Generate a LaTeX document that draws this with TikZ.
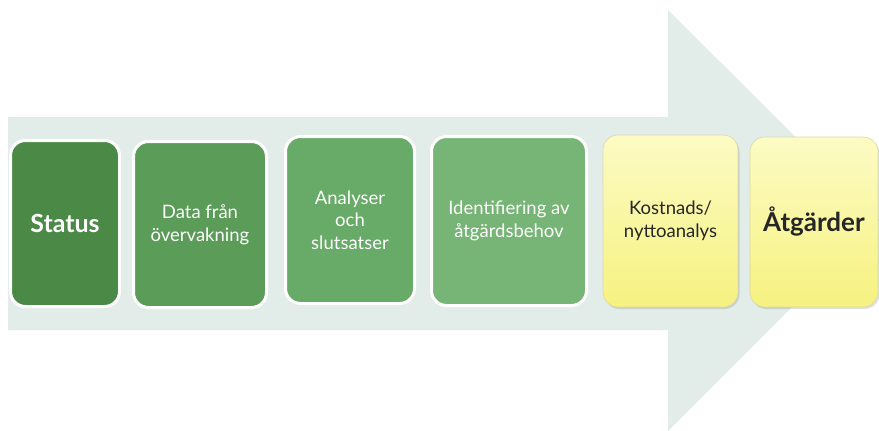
\documentclass[tikz,border=0pt]{standalone}
\usepackage{fontspec}
\setmainfont{Lato}
\usepackage{tikz}
\usetikzlibrary{shadows}

\definecolor{arrowbg}{RGB}{226,236,233}
\definecolor{greenA}{RGB}{74,137,70}
\definecolor{greenB}{RGB}{90,156,88}
\definecolor{greenC}{RGB}{104,170,104}
\definecolor{greenD}{RGB}{118,181,117}
\definecolor{yellowtop}{RGB}{252,251,196}
\definecolor{yellowbot}{RGB}{246,242,128}

\begin{document}
\begin{tikzpicture}[x=1pt, y=-1pt,
    stage/.style={rectangle, rounded corners=15pt, draw=white, line width=3pt, align=center,
                  text=white, font=\fontsize{18.5}{22.5}\selectfont},
    todo/.style={rectangle, rounded corners=15pt, draw=yellowbot!80!black!60, line width=0.6pt,
                 top color=yellowtop, bottom color=yellowbot, align=center, text=black!85,
                 font=\fontsize{18.5}{22.5}\selectfont,
                 drop shadow={shadow xshift=1.5pt, shadow yshift=-2pt, opacity=0.25}}
]
\useasboundingbox (0,0) rectangle (879,431);

% Big arrow
\fill[arrowbg] (8,117) -- (668,117) -- (668,10) -- (879,220) -- (668,431) -- (668,330) -- (8,330) -- cycle;

% Status
\node[stage, fill=greenA, minimum width=109pt, minimum height=166pt,
      font=\fontsize{25}{30}\selectfont\bfseries] (status) at (65,223.5) {Status};

% Data
\node[stage, fill=greenB, minimum width=133pt, minimum height=166pt] (data) at (200,224.5)
    {Data från\\övervakning};

% Analyser
\node[stage, fill=greenC, minimum width=129pt, minimum height=167pt] (analys) at (350,220)
    {Analyser\\och\\slutsatser};

% Identifiering
\node[stage, fill=greenD, minimum width=155pt, minimum height=169pt] (ident) at (509,221)
    {Identifiering av\\åtgärdsbehov};

% Kostnads/nytto
\node[todo, minimum width=135pt, minimum height=172pt] (kostnad) at (670.5,221)
    {Kostnads/\\nyttoanalys};

% Atgarder
\node[todo, minimum width=128pt, minimum height=170pt,
      font=\fontsize{26}{30}\selectfont\bfseries] (atgard) at (814,222) {Åtgärder};

\end{tikzpicture}
\end{document}
